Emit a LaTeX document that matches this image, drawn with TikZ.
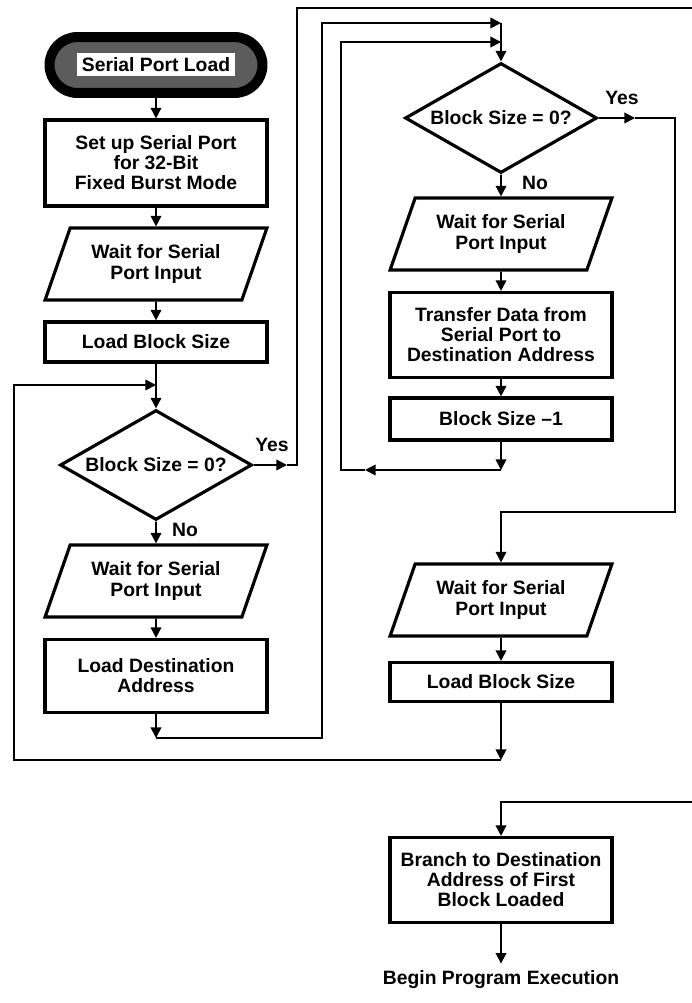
\documentclass[tikz,border=0pt]{standalone}
\usepackage{fontspec}
\setmainfont{Liberation Sans}
\usetikzlibrary{arrows.meta,shapes.geometric}
\definecolor{GlowClr}{rgb}{0.36,0.36,0.36}

\begin{document}
\begin{tikzpicture}[x=0.02cm,y=-0.02cm,
  font=\fontsize{11}{11.4}\selectfont\bfseries,
  box/.style={draw,line width=1.8pt,minimum width=4.44cm,align=center,inner sep=2pt},
  io/.style={draw,line width=1.8pt,trapezium,trapezium left angle=65,trapezium right angle=115,
    trapezium stretches=true,minimum width=4.46cm,minimum height=1.44cm,align=center,inner sep=1pt},
  decide/.style={draw,line width=1.8pt,diamond,aspect=1.75,minimum width=3.84cm,minimum height=2.2cm,inner sep=0pt},
  term/.style={draw=black,line width=0.2cm,rounded corners=0.56cm,minimum width=4.26cm,minimum height=1.12cm,
    fill=GlowClr},
  termtext/.style={fill=white,inner sep=2pt,minimum width=3.16cm,minimum height=0.46cm},
  wire/.style={line width=1pt},
  arr/.style={line width=1pt,-{Triangle[length=6pt,width=6pt]}}]
\useasboundingbox (0,0) rectangle (692,1003);

\coordinate (joinA) at (156,385);
\coordinate (yesAtip) at (287,465);
\coordinate (riseA) at (297,8);
\coordinate (exitTop) at (692,8);
\coordinate (retA) at (156,738);
\coordinate (riseB) at (322,23);
\coordinate (joinB1) at (501,23);
\coordinate (loopB) at (501,470);
\coordinate (loopBtip) at (365,470);
\coordinate (riseC) at (341,42);
\coordinate (joinB2) at (501,42);
\coordinate (yesBtip) at (635,118);
\coordinate (dropB) at (675,512);
\coordinate (loopC) at (501,760);
\coordinate (riseD) at (14,385);
\coordinate (entryBot) at (692,802);

\node[term] (start) at (156,65) {};
\node[termtext] (startlbl) at (start) {Serial Port Load};
\node[box,minimum height=1.72cm] (setup) at (156,163) {Set up Serial Port\\for 32-Bit\\Fixed Burst Mode};
\node[io] (waitA) at (156,264) {Wait for Serial\\Port Input};
\node[box,minimum height=0.8cm] (sizeA) at (156,342) {Load Block Size};
\node[decide] (testA) at (156,465) {Block Size = 0?};
\node[io] (waitB) at (156,581) {Wait for Serial\\Port Input};
\node[box,minimum height=1.46cm] (dest) at (156,676) {Load Destination\\Address};

\node[decide] (testB) at (501,118) {Block Size = 0?};
\node[io] (waitC) at (501,234) {Wait for Serial\\Port Input};
\node[box,minimum height=1.7cm] (xfer) at (501,335) {Transfer Data from\\Serial Port to\\Destination Address};
\node[box,minimum height=0.84cm] (dec) at (501,419) {Block Size --1};
\node[io] (waitD) at (501,600) {Wait for Serial\\Port Input};
\node[box,minimum height=0.78cm] (sizeB) at (501,682) {Load Block Size};
\node[box,minimum height=1.7cm] (branch) at (501,880) {Branch to Destination\\Address of First\\Block Loaded};
\node[inner sep=4pt] (exec) at (501,980) {Begin Program Execution};

\node (lblYesA) at (272,445) {Yes};
\node (lblNoA) at (185,530) {No};
\node (lblYesB) at (622,98) {Yes};
\node (lblNoB) at (535,183) {No};

\draw[arr] (start) -- (setup);
\draw[arr] (setup) -- (waitA);
\draw[arr] (waitA) -- (sizeA);
\draw[arr] (sizeA) -- (testA);
\draw[arr] (testA) -- (waitB);
\draw[arr] (waitB) -- (dest);
\draw[arr] (dest) -- (retA);
\draw[arr] (retA) -| (riseB) -- (joinB1);
\draw[arr] (testA.east) -- (yesAtip);
\draw[wire] (yesAtip) -| (riseA) -- (exitTop);

\draw[arr] (joinB1) -- (testB);
\draw[arr] (testB) -- (waitC);
\draw[arr] (waitC) -- (xfer);
\draw[arr] (xfer) -- (dec);
\draw[arr] (dec) -- (loopB);
\draw[arr] (loopB) -- (loopBtip);
\draw[arr] (loopBtip) -| (riseC) -- (joinB2);
\draw[arr] (testB.east) -- (yesBtip);
\draw[arr] (yesBtip) -| (dropB) -| (waitD.north);
\draw[arr] (waitD) -- (sizeB);
\draw[arr] (sizeB) -- (loopC);
\draw[arr] (loopC) -| (riseD) -- (joinA);

\draw[arr] (entryBot) -| (branch.north);
\draw[arr] (branch) -- (exec);

\end{tikzpicture}
\end{document}
